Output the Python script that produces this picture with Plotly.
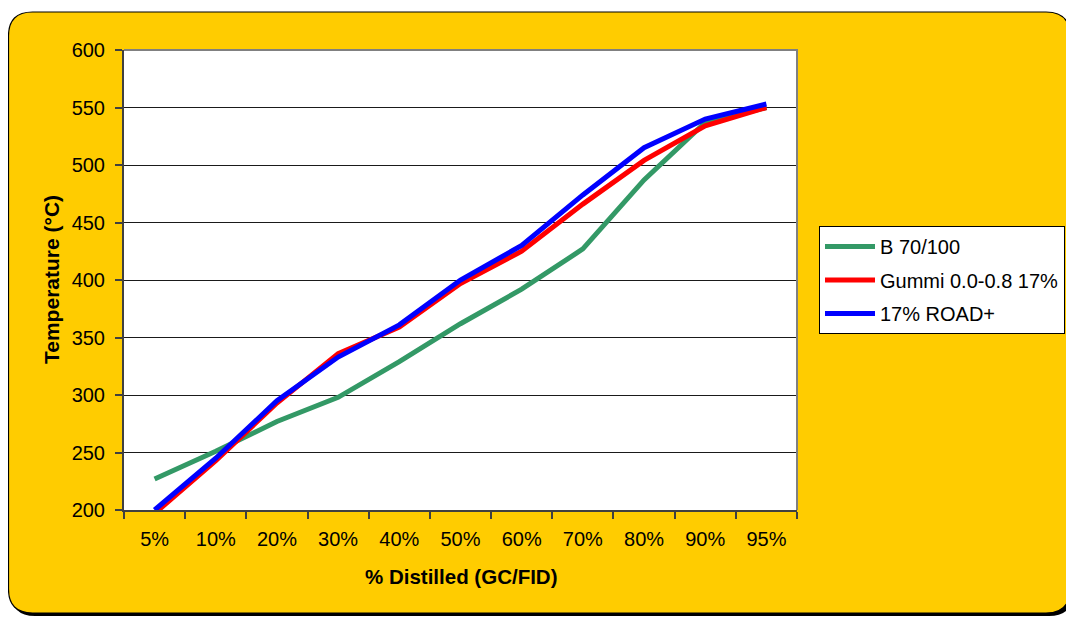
import plotly.graph_objects as go

categories = ["5%", "10%", "20%", "30%", "40%", "50%", "60%", "70%", "80%", "90%", "95%"]
b70_100 = [227, 251, 277, 298, 329, 362, 392, 427, 487, 537, 550]
gummi = [197, 243, 293, 336, 359, 397, 425, 466, 504, 534, 550]
road_plus = [200, 245, 295, 333, 361, 400, 430, 474, 515, 540, 553]
series_names = ["B 70/100", "Gummi 0.0-0.8 17%", "17% ROAD+"]
series_colors = ["#339966", "#FF0000", "#0000FF"]

# the page places the figure 8px in from the top-left corner of the window
OFF = 8
W, H = 1074 - OFF, 620 - OFF
PL, PR, PT, PB = 124 - OFF, 797 - OFF, 50 - OFF, 510 - OFF
FONT = "Arial, Liberation Sans, sans-serif"


def xp(px):
    """window pixel x -> paper coordinate"""
    return (px - OFF - PL) / (PR - PL)


def yp(py):
    """window pixel y -> paper coordinate"""
    return (PB - (py - OFF)) / (PB - PT)


def rounded_rect(x0, y0, x1, y1, r):
    pts = [
        f"M {xp(x0 + r)},{yp(y0)}",
        f"L {xp(x1 - r)},{yp(y0)}",
        f"Q {xp(x1)},{yp(y0)} {xp(x1)},{yp(y0 + r)}",
        f"L {xp(x1)},{yp(y1 - r)}",
        f"Q {xp(x1)},{yp(y1)} {xp(x1 - r)},{yp(y1)}",
        f"L {xp(x0 + r)},{yp(y1)}",
        f"Q {xp(x0)},{yp(y1)} {xp(x0)},{yp(y1 - r)}",
        f"L {xp(x0)},{yp(y0 + r)}",
        f"Q {xp(x0)},{yp(y0)} {xp(x0 + r)},{yp(y0)}",
        "Z",
    ]
    return " ".join(pts)


fig = go.Figure()
for i, (name, vals, col) in enumerate(zip(series_names, [b70_100, gummi, road_plus], series_colors)):
    fig.add_trace(go.Scatter(
        x=categories, y=vals, name=name, mode="lines",
        line=dict(color=col, width=5),
        legendgroup=f"g{i}",
    ))

shapes = [
    # shadow
    dict(type="path", xref="paper", yref="paper", layer="below",
         path=rounded_rect(11, 15, 1073, 616, 24),
         fillcolor="#000000", line=dict(width=0)),
    # gold panel
    dict(type="path", xref="paper", yref="paper", layer="below",
         path=rounded_rect(8.5, 12, 1070, 613, 24),
         fillcolor="#FFCC00", line=dict(color="#000000", width=1.2)),
    # plot area
    dict(type="rect", xref="paper", yref="paper", layer="below",
         x0=0, x1=1, y0=0, y1=1,
         fillcolor="#FFFFFF", line=dict(width=0)),
    # plot area top/right border
    dict(type="path", xref="paper", yref="paper", layer="above",
         path="M 0,1 L 1,1 L 1,0",
         line=dict(color="#808080", width=2)),
]

fig.update_layout(
    width=W, height=H,
    margin=dict(l=PL, r=W - PR, t=PT, b=H - PB, pad=0, autoexpand=False),
    paper_bgcolor="#FFFFFF",
    plot_bgcolor="rgba(0,0,0,0)",
    font=dict(family=FONT, size=20, color="#000000"),
    shapes=shapes,
    showlegend=True,
    legend=dict(
        x=xp(819), y=yp(226), xanchor="left", yanchor="top",
        bgcolor="#FFFFFF", bordercolor="#000000", borderwidth=1,
        font=dict(family=FONT, size=20, color="#000000"),
        traceorder="grouped", tracegroupgap=4.5,
        itemwidth=50,
    ),
    annotations=[
        dict(text="<b>Temperature (°C)</b>", xref="paper", yref="paper",
             x=xp(51), y=yp(280), xanchor="center", yanchor="middle",
             textangle=-90, showarrow=False,
             font=dict(family=FONT, size=21, color="#000000")),
        dict(text="<b>% Distilled (GC/FID)</b>", xref="paper", yref="paper",
             x=xp(461), y=yp(576), xanchor="center", yanchor="middle",
             showarrow=False,
             font=dict(family=FONT, size=20.5, color="#000000")),
    ],
)

fig.update_xaxes(
    type="category", categoryorder="array", categoryarray=categories,
    range=[-0.5, len(categories) - 0.5],
    tickson="boundaries", ticks="outside", ticklen=7, tickwidth=1.5, tickcolor="#404040",
    showline=True, linecolor="#404040", linewidth=2,
    showgrid=False, zeroline=False,
    ticklabelstandoff=10,
    tickfont=dict(family=FONT, size=20, color="#000000"),
)
fig.update_yaxes(
    range=[200, 600], dtick=50, tick0=200,
    ticks="outside", ticklen=7, tickwidth=1.5, tickcolor="#404040",
    showline=True, linecolor="#404040", linewidth=2,
    showgrid=True, gridcolor="#1a1a1a", gridwidth=1,
    zeroline=False,
    ticklabelstandoff=6,
    tickfont=dict(family=FONT, size=20, color="#000000"),
)

fig.write_html("out.html")
